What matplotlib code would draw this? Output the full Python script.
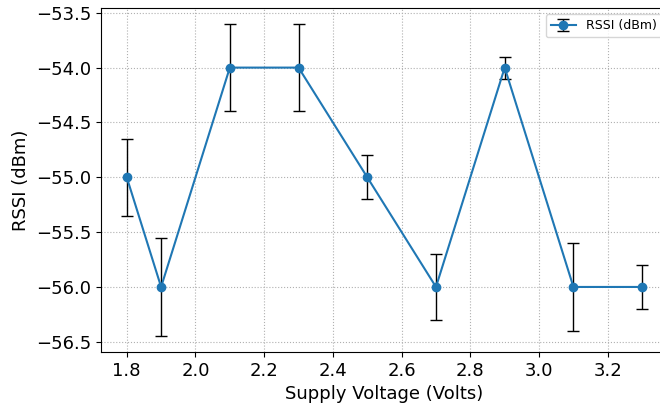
import numpy as np
import matplotlib
matplotlib.use("Agg")
import matplotlib.pyplot as plt

# supply voltage vs RSSI
voltage = [1.8, 1.9, 2.1, 2.3, 2.5, 2.7, 2.9, 3.1, 3.3]
rssi = [-55, -56, -54, -54, -55, -56, -54, -56, -56]
rssi_err = [0.35, 0.45, 0.4, 0.4, 0.2, 0.3, 0.1, 0.4, 0.2]

fig = plt.figure(figsize=(6.6, 4.05), dpi=100)
ax = fig.add_axes([0.153, 0.131, 0.859, 0.849])

ax.errorbar(voltage, rssi, yerr=rssi_err, fmt='-o', color='tab:blue',
            ecolor='k', elinewidth=1, capsize=4, label='RSSI (dBm)')

ax.set_xlabel('Supply Voltage (Volts)', fontsize=13)
ax.set_ylabel('RSSI (dBm)', fontsize=13)
ax.tick_params(labelsize=13)
ax.set_yticks(np.arange(-56.5, -53.4, 0.5))
ax.grid(True, linestyle=':', color='#b0b0b0')
ax.legend(fontsize=9, loc='upper right')

fig.savefig('out.png', dpi=100)
